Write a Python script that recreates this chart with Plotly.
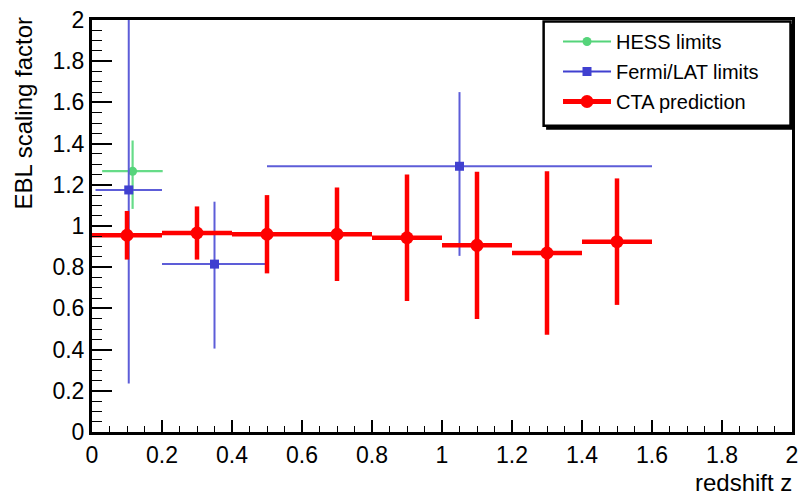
import plotly.graph_objects as go

# ---------------- data ----------------
cta_z = [0.1, 0.3, 0.5, 0.7, 0.9, 1.1, 1.3, 1.5]
cta_zerr = [0.1, 0.1, 0.1, 0.1, 0.1, 0.1, 0.1, 0.1]
cta_y = [0.955, 0.966, 0.96, 0.96, 0.943, 0.906, 0.869, 0.924]
cta_yerr = [0.118, 0.129, 0.19, 0.227, 0.307, 0.357, 0.397, 0.307]

fermi_z = [0.105, 0.35, 1.05]
fermi_zerr_minus = [0.095, 0.15, 0.55]
fermi_zerr_plus = [0.095, 0.15, 0.55]
fermi_y = [1.175, 0.815, 1.29]
fermi_yerr_plus = [0.83, 0.303, 0.36]
fermi_yerr_minus = [0.94, 0.41, 0.435]

hess_z = [0.116]
hess_zerr_minus = [0.087]
hess_zerr_plus = [0.086]
hess_y = [1.266]
hess_yerr_plus = [0.149]
hess_yerr_minus = [0.183]

x_ticks = [0, 0.2, 0.4, 0.6, 0.8, 1, 1.2, 1.4, 1.6, 1.8, 2]
y_ticks = [0, 0.2, 0.4, 0.6, 0.8, 1, 1.2, 1.4, 1.6, 1.8, 2]

RED = "#ff0000"
BLUE = "#4040d0"
BLUE_L = "#5d5dd8"
GREEN = "#55d47a"
GREEN_L = "#66dc88"
FONT = "Liberation Sans, Arial, Helvetica, sans-serif"

fig = go.Figure()

# HESS
fig.add_trace(go.Scatter(
    x=hess_z, y=hess_y, mode="markers", showlegend=False,
    marker=dict(color=GREEN, size=9, symbol="circle"),
    error_x=dict(type="data", symmetric=False, array=hess_zerr_plus,
                 arrayminus=hess_zerr_minus, color=GREEN_L, thickness=2.2, width=0),
    error_y=dict(type="data", symmetric=False, array=hess_yerr_plus,
                 arrayminus=hess_yerr_minus, color=GREEN_L, thickness=2.2, width=0),
))
# Fermi
fig.add_trace(go.Scatter(
    x=fermi_z, y=fermi_y, mode="markers", showlegend=False,
    marker=dict(color=BLUE, size=9, symbol="square"),
    error_x=dict(type="data", symmetric=False, array=fermi_zerr_plus,
                 arrayminus=fermi_zerr_minus, color=BLUE_L, thickness=2, width=0),
    error_y=dict(type="data", symmetric=False, array=fermi_yerr_plus,
                 arrayminus=fermi_yerr_minus, color=BLUE_L, thickness=2, width=0),
))
# CTA
fig.add_trace(go.Scatter(
    x=cta_z, y=cta_y, mode="markers", showlegend=False,
    marker=dict(color=RED, size=13, symbol="circle"),
    error_x=dict(type="data", array=cta_zerr, color=RED, thickness=4.5, width=0),
    error_y=dict(type="data", array=cta_yerr, color=RED, thickness=4.5, width=0),
))

# legend-only entries
for name, col, lw, ms, sym in [("HESS limits", GREEN, 2.2, 9, "circle"),
                               ("Fermi/LAT limits", BLUE, 2.2, 9, "square"),
                               ("CTA prediction", RED, 5, 13, "circle")]:
    fig.add_trace(go.Scatter(
        x=[None], y=[None], mode="lines+markers", name=name, legendgroup=name,
        line=dict(color=col, width=lw),
        marker=dict(color=col, size=ms, symbol=sym),
    ))

# legend box with shadow
shapes = [
    dict(type="rect", xref="paper", yref="paper",
         x0=(550 - 92) / 706, x1=(800 - 92) / 706,
         y0=(432 - 127.5) / 415, y1=(432 - 21) / 415,
         fillcolor="black", line=dict(width=0), layer="above"),
    dict(type="rect", xref="paper", yref="paper",
         x0=(547.5 - 92) / 706, x1=(796.5 - 92) / 706,
         y0=(432 - 123.5) / 415, y1=(432 - 18.5) / 415,
         fillcolor="white", line=dict(color="black", width=2.5), layer="above"),
]

axis_common = dict(
    showgrid=False, zeroline=False, showline=True, linecolor="black",
    linewidth=3, mirror=True, ticks="inside", tickcolor="black",
    tickfont=dict(family=FONT, size=23, color="black"),
)

fig.update_layout(
    width=805, height=496,
    margin=dict(l=92, r=7, t=17, b=64),
    paper_bgcolor="white", plot_bgcolor="white",
    font=dict(family=FONT, color="black"),
    shapes=shapes,
    xaxis=dict(range=[0, 2], tickvals=x_ticks, ticklen=12, tickwidth=1.5,
               minor=dict(ticks="inside", ticklen=6, dtick=0.05, tickwidth=1.2,
                          tickcolor="black", showgrid=False),
               **axis_common),
    yaxis=dict(range=[0, 2], tickvals=y_ticks, ticklen=20, tickwidth=1.5,
               minor=dict(ticks="inside", ticklen=10, dtick=0.05, tickwidth=1.2,
                          tickcolor="black", showgrid=False),
               **axis_common),
    legend=dict(x=(562 - 92) / 706, y=(432 - 19) / 415, xanchor="left", yanchor="top",
                bgcolor="rgba(0,0,0,0)", borderwidth=0,
                font=dict(family=FONT, size=20, color="black"),
                itemwidth=48, tracegroupgap=1, traceorder="grouped"),
    annotations=[
        dict(text="EBL scaling factor", xref="paper", yref="paper", x=0, y=1,
             xanchor="center", yanchor="top", xshift=-69, yshift=5, textangle=-90,
             showarrow=False, font=dict(family=FONT, size=24, color="black")),
        dict(text="redshift z", xref="paper", yref="paper", x=1, y=0,
             xanchor="right", yanchor="middle", xshift=1, yshift=-50, height=26,
             valign="middle", borderpad=0,
             showarrow=False, font=dict(family=FONT, size=24, color="black")),
    ],
)

fig.write_html("out.html")
